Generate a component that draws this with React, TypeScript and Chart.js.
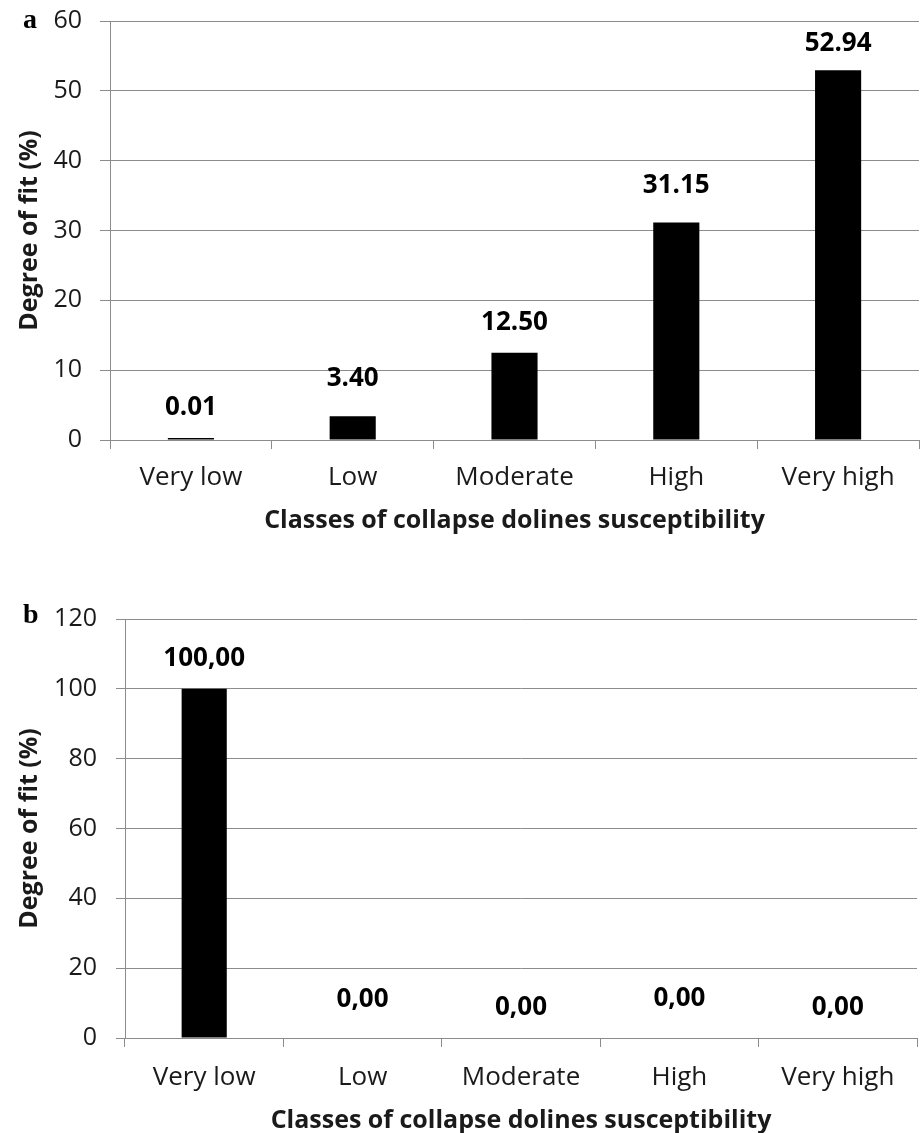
import React, { useEffect, useRef } from "react";
import { Chart, registerables } from "chart.js";

Chart.register(...registerables);

// ---------- data ----------
const categories = ["Very low", "Low", "Moderate", "High", "Very high"];
const fitA = [0.01, 3.4, 12.5, 31.15, 52.94];
const fitB = [100, 0, 0, 0, 0];
const yTicksA = [0, 10, 20, 30, 40, 50, 60];
const yTicksB = [0, 20, 40, 60, 80, 100, 120];
const xTitle = "Classes of collapse dolines susceptibility";
const yTitle = "Degree of fit (%)";

// ---------- layout / style (not data) ----------
const FONT = '"Open Sans", "Noto Sans", sans-serif';
const GRID = "#8c8c8c";
const TEXT = "#1a1a1a";
const liftA = [30, 38, 30, 37, 27];
const liftB = [30, 38, 30, 39, 30];

const valueLabels = {
  id: "valueLabels",
  afterDatasetsDraw(chart: any, _args: any, opts: any) {
    const meta = chart.getDatasetMeta(0);
    const ctx = chart.ctx;
    ctx.save();
    ctx.font = `bold ${opts.size}px ${FONT}`;
    ctx.fillStyle = "#000";
    ctx.textAlign = "center";
    ctx.textBaseline = "middle";
    meta.data.forEach((bar: any, i: number) => {
      const v = chart.data.datasets[0].data[i] as number;
      const text = v.toFixed(2).replace(".", opts.sep);
      ctx.fillText(text, bar.x, bar.y - opts.lifts[i]);
    });
    ctx.font = 'bold 28px "Liberation Serif", "Times New Roman", serif';
    ctx.textAlign = "left";
    ctx.textBaseline = "alphabetic";
    ctx.fillText(opts.letter, opts.letterX, opts.letterY);
    ctx.restore();
  },
};

function makeConfig(p: {
  values: number[];
  ticks: number[];
  sep: string;
  lifts: number[];
  letter: string;
  letterY: number;
  padTop: number;
  padRight: number;
  yWidth: number;
  xHeight: number;
  yTickLen: number;
  yTickPad: number;
  xTickPad: number;
  minBar: number;
  xTitlePad: number;
}): any {
  const step = p.ticks[1] - p.ticks[0];
  return {
    type: "bar",
    data: {
      labels: categories,
      datasets: [
        {
          data: p.values,
          backgroundColor: "#000",
          borderWidth: 0,
          barPercentage: 0.285,
          categoryPercentage: 1,
          minBarLength: p.minBar,
        },
      ],
    },
    options: {
      responsive: false,
      maintainAspectRatio: false,
      animation: false,
      devicePixelRatio: 1,
      layout: { padding: { top: p.padTop, right: p.padRight, left: 0, bottom: 0 } },
      plugins: {
        legend: { display: false },
        tooltip: { enabled: false },
        title: { display: false },
        valueLabels: {
          size: 26,
          sep: p.sep,
          lifts: p.lifts,
          letter: p.letter,
          letterX: 23,
          letterY: p.letterY,
        },
      },
      scales: {
        x: {
          grid: {
            display: true,
            drawOnChartArea: false,
            drawTicks: true,
            tickLength: 9,
            color: GRID,
            offset: true,
          },
          border: { display: true, color: GRID, width: 1 },
          ticks: {
            color: TEXT,
            padding: p.xTickPad,
            font: { family: FONT, size: 26, lineHeight: 1 },
            maxRotation: 0,
            autoSkip: false,
          },
          title: {
            display: true,
            text: xTitle,
            color: TEXT,
            font: { family: FONT, size: 25, weight: "bold", lineHeight: 1 },
            padding: { top: 0, bottom: p.xTitlePad },
          },
          afterFit: (s: any) => {
            s.height = p.xHeight;
            s.paddingLeft = 0;
            s.paddingRight = 0;
          },
        },
        y: {
          min: p.ticks[0],
          max: p.ticks[p.ticks.length - 1],
          afterBuildTicks: (s: any) => {
            s.ticks = p.ticks.map((v) => ({ value: v }));
          },
          ticks: {
            stepSize: step,
            color: TEXT,
            padding: p.yTickPad,
            font: { family: FONT, size: 25, lineHeight: 1 },
          },
          grid: {
            color: GRID,
            lineWidth: 1,
            drawTicks: true,
            tickLength: p.yTickLen,
          },
          border: { display: true, color: GRID, width: 1 },
          title: {
            display: true,
            text: yTitle,
            color: TEXT,
            font: { family: FONT, size: 25, weight: "bold", lineHeight: 1 },
            padding: { top: 17, bottom: 0 },
          },
          afterFit: (s: any) => {
            s.width = p.yWidth;
            s.paddingTop = 0;
            s.paddingBottom = 0;
          },
        },
      },
    },
    plugins: [valueLabels],
  };
}

function Panel(props: { config: any; top: number; height: number }) {
  const ref = useRef<HTMLCanvasElement | null>(null);
  useEffect(() => {
    if (!ref.current) return;
    const chart = new Chart(ref.current, props.config);
    return () => chart.destroy();
  }, []);
  return (
    <canvas
      ref={ref}
      width={920}
      height={props.height}
      style={{ position: "absolute", left: 0, top: props.top, width: 920, height: props.height, display: "block" }}
    />
  );
}

export default function App() {
  const cfgA = makeConfig({
    values: fitA,
    ticks: yTicksA,
    sep: ".",
    lifts: liftA,
    letter: "a",
    letterY: 28,
    padTop: 21,
    padRight: 1,
    yWidth: 110,
    xHeight: 120,
    yTickLen: 10,
    yTickPad: 18,
    xTickPad: 16,
    minBar: 2,
    xTitlePad: 27,
  });
  const cfgB = makeConfig({
    values: fitB,
    ticks: yTicksB,
    sep: ",",
    lifts: liftB,
    letter: "b",
    letterY: 63,
    padTop: 59,
    padRight: 3,
    yWidth: 125,
    xHeight: 95,
    yTickLen: 9,
    yTickPad: 19,
    xTickPad: 18,
    minBar: 0,
    xTitlePad: 0,
  });
  return (
    <div style={{ position: "absolute", left: 0, top: 0, width: 920, height: 1133, background: "#fff", overflow: "hidden" }}>
      <Panel config={cfgA} top={0} height={560} />
      <Panel config={cfgB} top={560} height={573} />
    </div>
  );
}
